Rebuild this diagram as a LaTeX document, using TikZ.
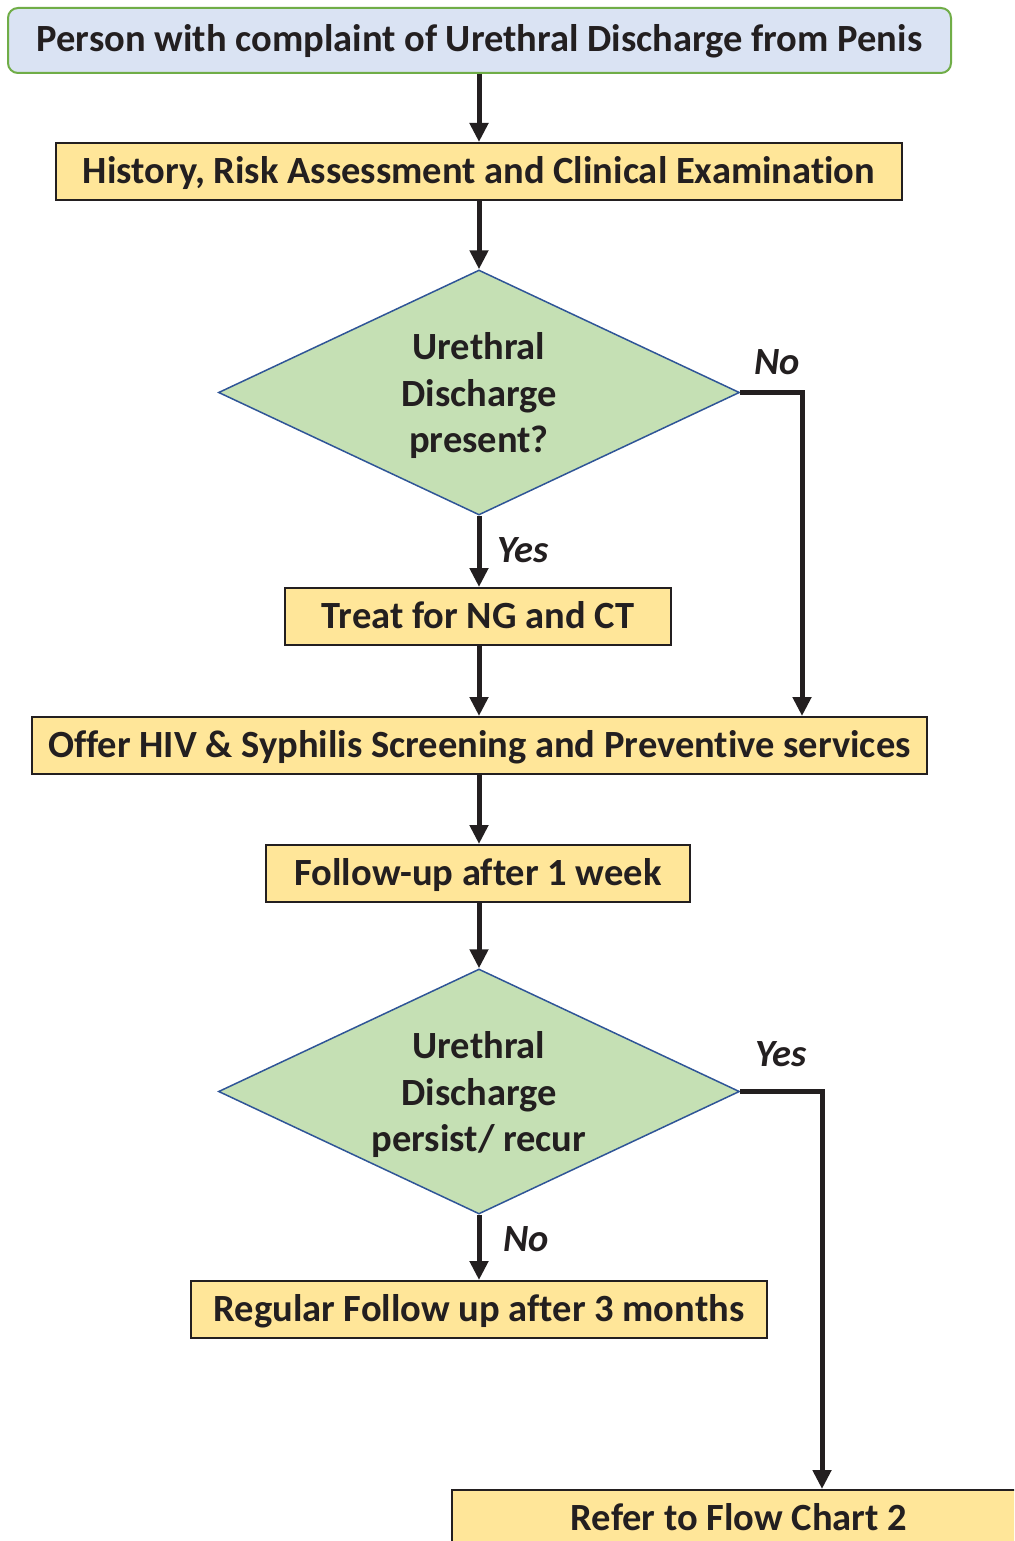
\documentclass[tikz,border=0pt]{standalone}
\usepackage{fontspec}
\setmainfont{Carlito}[Ligatures=NoCommon]
\usetikzlibrary{shapes.geometric,arrows.meta,calc}
\definecolor{txt}{HTML}{231F20}
\definecolor{bluefill}{HTML}{DAE3F3}
\definecolor{greenline}{HTML}{70AD47}
\definecolor{yellowfill}{HTML}{FFE699}
\definecolor{diafill}{HTML}{C5E0B4}
\definecolor{dialine}{HTML}{2F5597}
\tikzset{
  lbl/.style={font=\fontsize{38.5}{44}\selectfont\bfseries, text=txt, text height=30pt, text depth=7pt},
  startbox/.style={lbl, draw=greenline, line width=2pt, fill=bluefill, rounded corners=10pt, minimum height=65pt, inner sep=0pt},
  stepbox/.style={lbl, draw=txt, line width=2pt, fill=yellowfill, minimum height=57pt, inner sep=0pt},
  decision/.style={shape=diamond, draw=dialine, line width=1.5pt, fill=diafill, aspect=2.13, minimum width=521pt, minimum height=245pt, inner sep=0pt},
  dectext/.style={align=center, text=txt, inner sep=0pt, font=\fontsize{38.5}{46.5}\selectfont\bfseries},
  arr/.style={draw=txt, line width=5pt, -{Triangle[length=19pt,width=18pt]}},
  ans/.style={font=\fontsize{38.5}{44}\selectfont\bfseries\itshape, text=txt},
}
\begin{document}
\begin{tikzpicture}[x=1pt,y=-1pt]
\useasboundingbox (0,0) rectangle (1014,1541);
\clip (0,0) rectangle (1014,1541);
\fill[white] (0,0) rectangle (1014,1541);
\node[startbox, minimum width=943pt] (b1) at (479.5,40.5) {Person with complaint of Urethral Discharge from Penis};
\node[stepbox, minimum width=846pt] (b2) at (479,171.5) {History, Risk Assessment and Clinical Examination};
\node[decision] (d1) at (479,392.5) {};
\node[dectext] (d1t) at (479,396) {Urethral\\Discharge\\present?};
\node[stepbox, minimum width=386pt] (b3) at (478,616.5) {Treat for NG and CT};
\node[stepbox, minimum width=895pt] (b4) at (479.5,745.5) {Offer HIV \& Syphilis Screening and Preventive services};
\node[stepbox, minimum width=424pt] (b5) at (478,873.5) {Follow-up after 1 week};
\node[decision] (d2) at (479,1091.5) {};
\node[dectext] (d2t) at (479,1095) {Urethral\\Discharge\\persist/ recur};
\node[stepbox, minimum width=576pt] (b6) at (479,1309.5) {Regular Follow up after 3 months};
\node[stepbox, minimum width=574pt, minimum height=58pt] (b7) at (739,1519) {Refer to Flow Chart 2};
\coordinate (nox) at (802,0);
\coordinate (yesx) at (822,0);
\node[ans] (lno1) at (777,362) {No};
\node[ans] (lyes1) at (523,550) {Yes};
\node[ans] (lyes2) at (781,1054) {Yes};
\node[ans] (lno2) at (526,1239) {No};
\draw[arr] (d1.north |- b1.south) -- (d1.north |- b2.north);
\draw[arr] (d1.north |- b2.south) -- (d1.north);
\draw[arr] (d1.south) -- (d1.south |- b3.north);
\draw[arr] (d1.north |- b3.south) -- (d1.north |- b4.north);
\draw[arr] (d1.east) -| (nox |- b4.north);
\draw[arr] (d1.north |- b4.south) -- (d1.north |- b5.north);
\draw[arr] (d2.north |- b5.south) -- (d2.north);
\draw[arr] (d2.south) -- (d2.south |- b6.north);
\draw[arr] (d2.east) -| (yesx |- b7.north);
\end{tikzpicture}
\end{document}
